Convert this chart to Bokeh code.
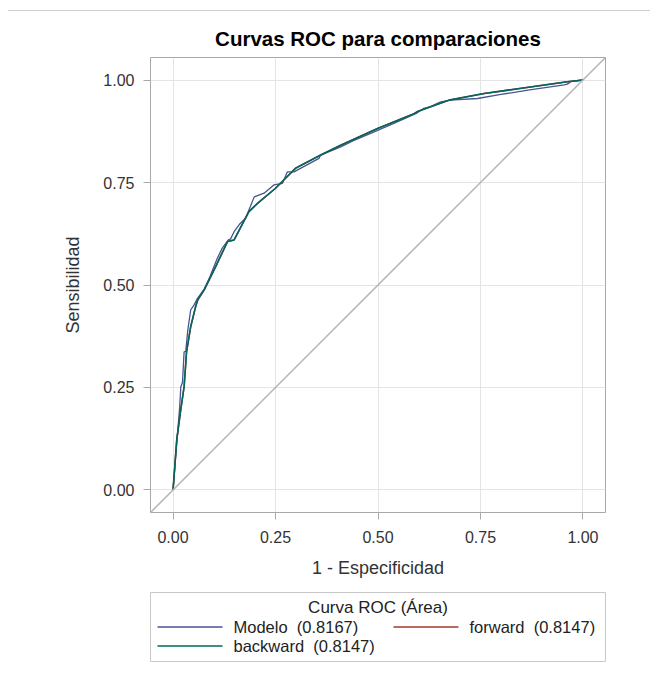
from bokeh.plotting import figure
from bokeh.models import Range1d, FixedTicker, Slope, Spacer, Div
from bokeh.layouts import column, row
from bokeh.core.properties import value
from bokeh.embed import file_html
from bokeh.resources import INLINE

# ---------------- data ----------------
modelo_fpr = [0.0, 0.004, 0.007, 0.012, 0.016, 0.019, 0.023, 0.027, 0.031, 0.036, 0.043,
              0.051, 0.060, 0.076, 0.090, 0.108, 0.120, 0.135, 0.140, 0.149, 0.162, 0.177,
              0.198, 0.222, 0.246, 0.267, 0.279, 0.295, 0.330, 0.356, 0.360, 0.409, 0.440,
              0.482, 0.540, 0.596, 0.612, 0.628, 0.653, 0.677, 0.743, 0.800, 0.870, 0.954,
              0.962, 0.970, 1.0]
modelo_tpr = [0.0, 0.050, 0.090, 0.150, 0.200, 0.252, 0.262, 0.337, 0.338, 0.390, 0.439,
              0.451, 0.468, 0.490, 0.520, 0.565, 0.590, 0.610, 0.612, 0.630, 0.648, 0.663,
              0.715, 0.724, 0.744, 0.748, 0.776, 0.776, 0.795, 0.809, 0.817, 0.837, 0.852,
              0.870, 0.895, 0.920, 0.931, 0.935, 0.947, 0.951, 0.955, 0.965, 0.976, 0.988,
              0.990, 0.996, 1.0]

step_fpr = [0.0, 0.009, 0.018, 0.027, 0.033, 0.043, 0.055, 0.060, 0.076, 0.104, 0.133,
            0.149, 0.185, 0.206, 0.250, 0.299, 0.360, 0.409, 0.499, 0.588, 0.596, 0.673,
            0.759, 0.850, 0.962, 1.0]
step_tpr = [0.0, 0.122, 0.190, 0.252, 0.337, 0.398, 0.447, 0.463, 0.488, 0.545, 0.606,
            0.610, 0.679, 0.699, 0.736, 0.785, 0.817, 0.841, 0.882, 0.918, 0.923, 0.951,
            0.967, 0.980, 0.996, 1.0]

ticks = [0.0, 0.25, 0.5, 0.75, 1.0]
tick_labels = ["0.00", "0.25", "0.50", "0.75", "1.00"]

legend_title = "Curva ROC (Área)"
legend_labels = ["Modelo\u00a0\u00a0(0.8167)", "forward\u00a0\u00a0(0.8147)", "backward\u00a0\u00a0(0.8147)"]
colors = ["#445694", "#A23A2E", "#01665E"]

FONT = "Liberation Sans"

# ---------------- main plot ----------------
p = figure(frame_width=455, frame_height=455,
           x_range=Range1d(-0.055, 1.055), y_range=Range1d(-0.055, 1.055),
           min_border_left=150, min_border_right=20, min_border_top=46, min_border_bottom=79,
           output_backend="svg", toolbar_location=None,
           title="Curvas ROC para comparaciones")
p.title.text_font = FONT
p.title.text_font_size = "20.5px"
p.title.text_font_style = "bold"
p.title.align = "center"
p.title.text_color = "#000000"
p.title.standoff = 15

p.outline_line_color = "#a8a8a8"
p.outline_line_width = 1
p.background_fill_color = "white"
p.border_fill_color = "white"

for ax in (p.xaxis[0], p.yaxis[0]):
    ax.ticker = FixedTicker(ticks=ticks)
    ax.major_label_overrides = {t: l for t, l in zip(ticks, tick_labels)}
    ax.axis_line_color = None
    ax.major_tick_line_color = "#a8a8a8"
    ax.major_tick_out = 7
    ax.major_tick_in = 0
    ax.minor_tick_line_color = None
    ax.major_label_text_font = FONT
    ax.major_label_text_font_size = "16px"
    ax.major_label_text_color = "#333333"
    ax.axis_label_text_font = FONT
    ax.axis_label_text_font_size = "18px"
    ax.axis_label_text_font_style = "normal"
    ax.axis_label_text_color = "#333333"

p.xaxis.axis_label = "1 - Especificidad"
p.yaxis.axis_label = "Sensibilidad"
p.xaxis.major_label_standoff = 11
p.yaxis.major_label_standoff = 9
p.xaxis.axis_label_standoff = 12
p.yaxis.axis_label_standoff = 17

p.grid.grid_line_color = "#e4e4e4"
p.grid.grid_line_width = 1

p.add_layout(Slope(gradient=1, y_intercept=0, line_color="#b4b4b4", line_width=1.5))

p.line(modelo_fpr, modelo_tpr, line_color=colors[0], line_width=1.3)
p.line(step_fpr, step_tpr, line_color=colors[1], line_width=1.5)
p.line(step_fpr, step_tpr, line_color=colors[2], line_width=1.6)

# ---------------- legend panel ----------------
lg = figure(frame_width=455, frame_height=69,
            x_range=Range1d(0, 455), y_range=Range1d(0, 69),
            min_border=1, output_backend="svg", toolbar_location=None)
lg.axis.visible = False
lg.grid.visible = False
lg.outline_line_color = "#c8c8c8"

lg.text(x=[227.5], y=[54], text=[legend_title], text_font=value(FONT), text_font_size="17px",
        text_align="center", text_baseline="middle", text_color="#222222")

item_x0 = [7, 243, 7]
item_y = [34.5, 34.5, 15.5]
lg.segment(x0=item_x0, y0=item_y, x1=[x + 65 for x in item_x0], y1=item_y,
           line_color=colors, line_width=1.5)
lg.text(x=[x + 76 for x in item_x0], y=item_y, text=legend_labels, text_font=value(FONT),
        text_font_size="16.5px", text_align="left", text_baseline="middle", text_color="#222222")

# thin separator line at the top of the page
sep = Div(text="", width=642, height=1, margin=(0, 0, 0, 0),
          styles={"background-color": "#d0d0d0"})

layout = column(Spacer(width=650, height=10),
                row(Spacer(width=8, height=1), sep),
                p,
                row(Spacer(width=149, height=71), lg))

open("out.html", "w").write(file_html(layout, INLINE))
